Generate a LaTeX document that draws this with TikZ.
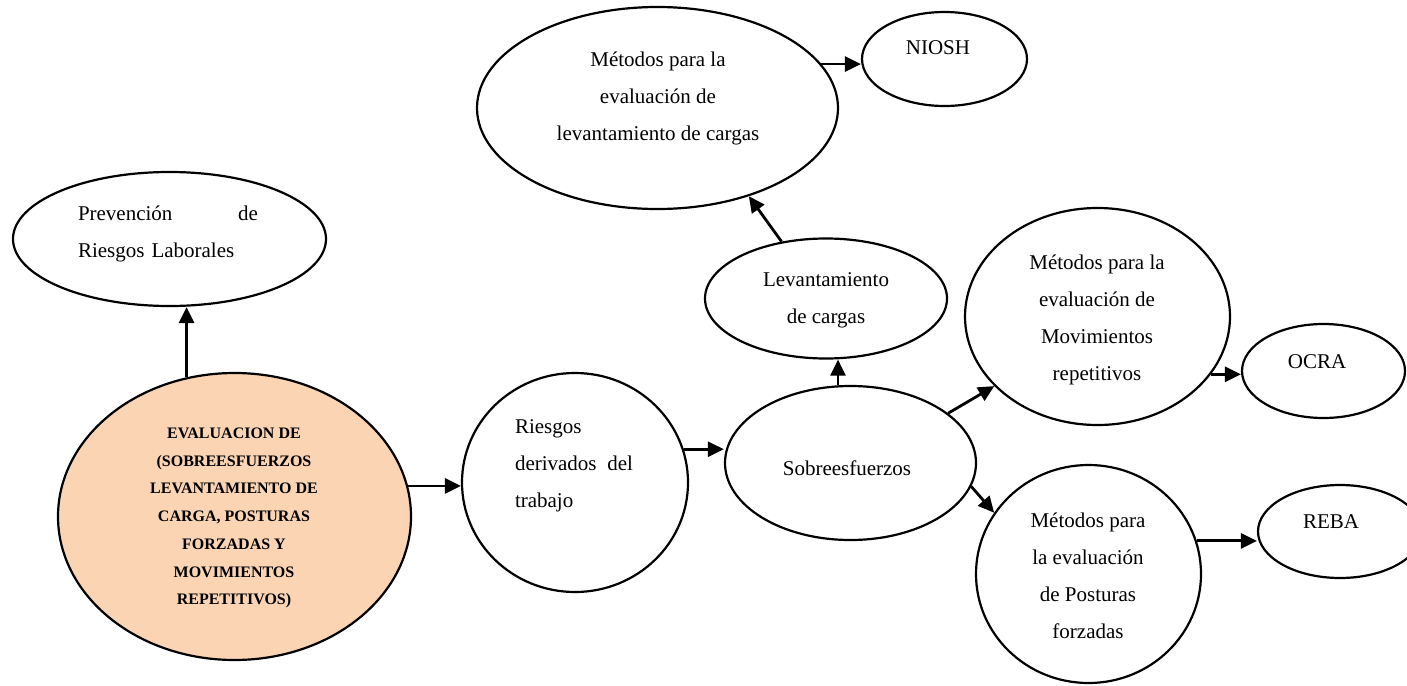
\documentclass[tikz,border=0pt]{standalone}
\usepackage{fontspec}
\setmainfont{Liberation Serif}
\usetikzlibrary{shapes.geometric,arrows.meta}
\definecolor{peach}{HTML}{FBD4B4}
\begin{document}
\begin{tikzpicture}[x=0.5pt,y=-0.5pt,
  bub/.style={draw, ellipse, line width=1.1pt, inner sep=0pt, fill=white},
  txt/.style={font=\fontsize{10.5}{18.5}\selectfont, inner sep=0pt},
  btxt/.style={font=\fontsize{8}{13.85}\selectfont\bfseries, inner sep=0pt, align=center},
  arr/.style={line width=1.4pt, -{Triangle[length=8pt,width=7.5pt]}}]
\clip (0,0) rectangle (1407,685);
\fill[white] (0,0) rectangle (1407,685);

% bubbles
\node[bub, minimum width=156.5pt, minimum height=67pt] (prev) at (169.5,239) {};
\node[bub, fill=peach, minimum width=176.5pt, minimum height=143.5pt] (eval) at (234.5,516.5) {};
\node[bub, minimum width=113pt, minimum height=109.5pt] (ries) at (575,482.5) {};
\node[bub, minimum width=125.5pt, minimum height=77pt] (sobre) at (850.5,463) {};
\node[bub, minimum width=121pt, minimum height=60pt] (lev) at (826,298.5) {};
\node[bub, minimum width=180.5pt, minimum height=101pt] (met) at (657.5,108) {};
\node[bub, minimum width=82.5pt, minimum height=47pt] (niosh) at (944.5,59) {};
\node[bub, minimum width=132.5pt, minimum height=108.5pt] (mov) at (1097.5,316.5) {};
\node[bub, minimum width=81.5pt, minimum height=47pt] (ocra) at (1323.5,371) {};
\node[bub, minimum width=112.5pt, minimum height=109pt] (post) at (1088.5,574) {};
\node[bub, minimum width=82pt, minimum height=46.5pt] (reba) at (1340,531.5) {};

% texts
\node[txt, text width=90pt, align=left] (tprev) at (168,234) {Prevención\hfill de\\Riesgos Laborales};
\node[btxt] (teval) at (234,518) {EVALUACION DE\\(SOBREESFUERZOS\\LEVANTAMIENTO DE\\CARGA, POSTURAS\\FORZADAS Y\\MOVIMIENTOS\\REPETITIVOS)};
\node[txt, text width=59pt, align=left] (tries) at (574,466) {Riesgos\\derivados\hfill del\\trabajo};
\node[txt] (tsobre) at (847,468) {Sobreesfuerzos};
\node[txt, align=center] (tlev) at (826,300) {Levantamiento\\de cargas};
\node[txt, align=center] (tmet) at (658,98) {Métodos para la\\evaluación de\\levantamiento de cargas};
\node[txt] (tniosh) at (938,48) {NIOSH};
\node[txt, align=center] (tmov) at (1097,320) {Métodos para la\\evaluación de\\Movimientos\\repetitivos};
\node[txt] (tocra) at (1317,362) {OCRA};
\node[txt, align=center] (tpost) at (1088,576) {Métodos para\\la evaluación\\de Posturas\\forzadas};
\node[txt] (treba) at (1331,522) {REBA};

% connectors
\draw[arr] (eval.109) -- (eval.109 |- prev.south);
\draw[arr] (eval.10) -- (eval.10 -| ries.west);
\draw[arr] (ries.17) -- (ries.17 -| sobre.west);
\draw[arr] ([xshift=-6.25pt]sobre.north) -- ([xshift=-6.25pt]sobre.north |- lev.south);
\draw[arr] (lev.128) -- (met.316);
\draw[arr] (met.15) -- (met.15 -| niosh.west);
\draw[arr] (sobre.27) -- (mov.214);
\draw[arr] (sobre.349) -- (post.147);
\draw[arr] (mov.333) -- (mov.333 -| ocra.west);
\draw[arr] (post.17) -- (post.17 -| reba.west);
\end{tikzpicture}
\end{document}
